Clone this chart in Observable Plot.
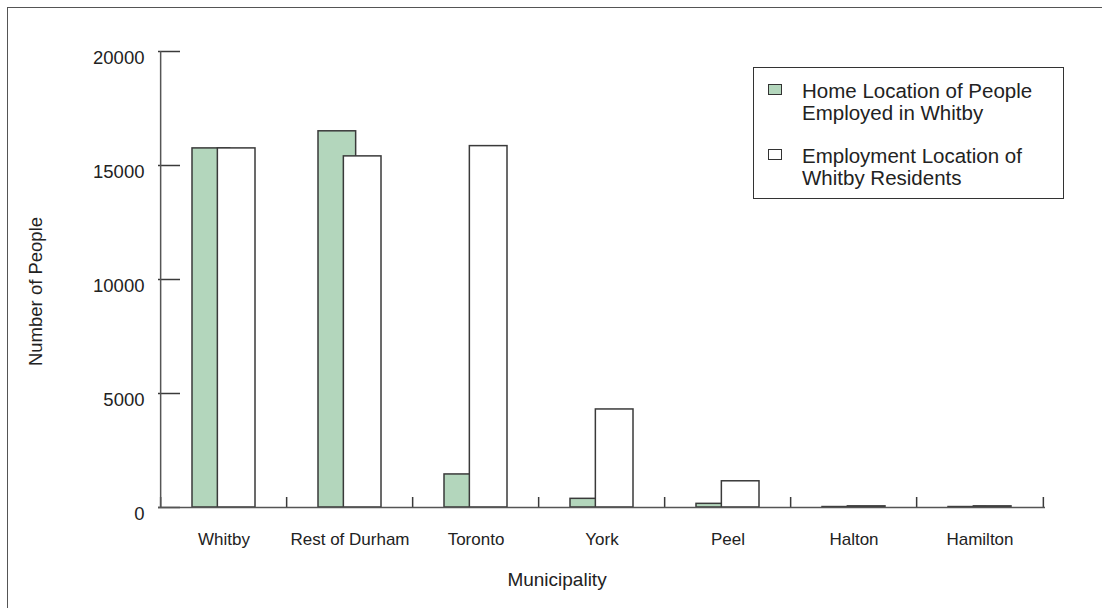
<!DOCTYPE html>
<html><head><meta charset="utf-8">
<script src="https://cdn.jsdelivr.net/npm/d3@7"></script>
<script src="https://cdn.jsdelivr.net/npm/@observablehq/plot@0.6"></script>
<style>
html,body{margin:0;padding:0;background:#fff;}
#wrap{position:relative;width:1102px;height:608px;font-family:"Liberation Sans",Arial,sans-serif;color:#222;overflow:hidden;}
#border{position:absolute;left:7px;top:7px;width:1200px;height:700px;border-top:1px solid #555;border-left:1px solid #555;}
#chart{position:absolute;left:0;top:0;}
#legend{position:absolute;left:753px;top:67px;width:311px;height:132px;border:1px solid #333;box-sizing:border-box;background:#fff;}
.sw{position:absolute;width:14px;height:11px;border:1.5px solid #333;box-sizing:border-box;}
.lab{position:absolute;left:48px;font-size:20.5px;line-height:22px;white-space:nowrap;}
</style></head>
<body>
<div id="wrap">
  <div id="border"></div>
  <div id="chart"></div>
  <div id="legend"></div>
</div>
<script>
const municipalities = ["Whitby", "Rest of Durham", "Toronto", "York", "Peel", "Halton", "Hamilton"];
const homeOfWhitbyWorkers = [15750, 16500, 1450, 380, 160, 20, 20];
const workOfWhitbyResidents = [15750, 15400, 15850, 4300, 1150, 50, 50];
const yTicks = [0, 5000, 10000, 15000, 20000];
const seriesNames = ["Home Location of People\nEmployed in Whitby", "Employment Location of\nWhitby Residents"];
const seriesColors = ["#b3d6bc", "#ffffff"];

const rows = municipalities.map((m, i) => ({m, home: homeOfWhitbyWorkers[i], work: workOfWhitbyResidents[i]}));

const W = 1102, H = 608, mL = 158, mR = 57, mT = 51, mB = 101;
const plotW = W - mL - mR;
const step = plotW / municipalities.length;
const bandW = step * 0.5;
const barW = 38;
const inset = bandW - barW;
const ink = "#3a3a3a";

const chart = Plot.plot({
  width: W, height: H,
  marginLeft: mL, marginRight: mR, marginTop: mT, marginBottom: mB,
  style: {fontFamily: '"Liberation Sans", Arial, sans-serif', fontSize: "17px", color: "#222", background: "transparent"},
  x: {domain: municipalities, paddingInner: 0.5, paddingOuter: 0.25, label: null},
  y: {domain: [0, 20000], label: null},
  marks: [
    Plot.barY(rows, {x: "m", y: "home", fill: seriesColors[0], stroke: ink, strokeWidth: 1.5, insetRight: inset}),
    Plot.barY(rows, {x: "m", y: "work", fill: seriesColors[1], stroke: ink, strokeWidth: 1.5, insetLeft: inset}),
    Plot.ruleY(yTicks, {y: d => d, stroke: ink, strokeWidth: 1.5, insetRight: plotW - 22}),
    Plot.ruleX(municipalities, {x: d => d, y1: 0, y2: 0, insetTop: -10, dx: -step / 2, stroke: ink, strokeWidth: 1.5}),
    Plot.ruleX([municipalities[municipalities.length - 1]], {x: d => d, y1: 0, y2: 0, insetTop: -10, dx: step / 2, stroke: ink, strokeWidth: 1.5}),
    Plot.ruleX([municipalities[0]], {x: d => d, y1: 0, y2: 20000, dx: -step / 2, stroke: "#555", strokeWidth: 1.5}),
    Plot.ruleY([0], {stroke: "#555", strokeWidth: 1.5}),
    Plot.axisY({ticks: yTicks, tickSize: 0, tickPadding: 14, dy: 7, tickFormat: d => String(d), fontSize: 18.5, label: null}),
    Plot.axisX({tickSize: 0, tickPadding: 25, fontSize: 17, label: null}),
    Plot.text(["Municipality"], {frameAnchor: "bottom", lineAnchor: "middle", textAnchor: "middle", dx: -45, dy: 72, fontSize: 19, fill: "#222"}),
    Plot.text(["Number of People"], {frameAnchor: "left", textAnchor: "middle", lineAnchor: "middle", rotate: -90, dx: -122, dy: 12, fontSize: 18.5, fill: "#222"})
  ]
});
document.getElementById("chart").appendChild(chart);

// Legend
const legend = document.getElementById("legend");
const swTops = [16, 81], labTops = [12, 77];
seriesNames.forEach((name, i) => {
  const sw = document.createElement("div");
  sw.className = "sw";
  sw.style.left = "14px";
  sw.style.top = swTops[i] + "px";
  sw.style.background = seriesColors[i];
  legend.appendChild(sw);
  const lab = document.createElement("div");
  lab.className = "lab";
  lab.style.top = labTops[i] + "px";
  lab.innerHTML = name.split("\n").join("<br>");
  legend.appendChild(lab);
});
</script>
</body></html>
